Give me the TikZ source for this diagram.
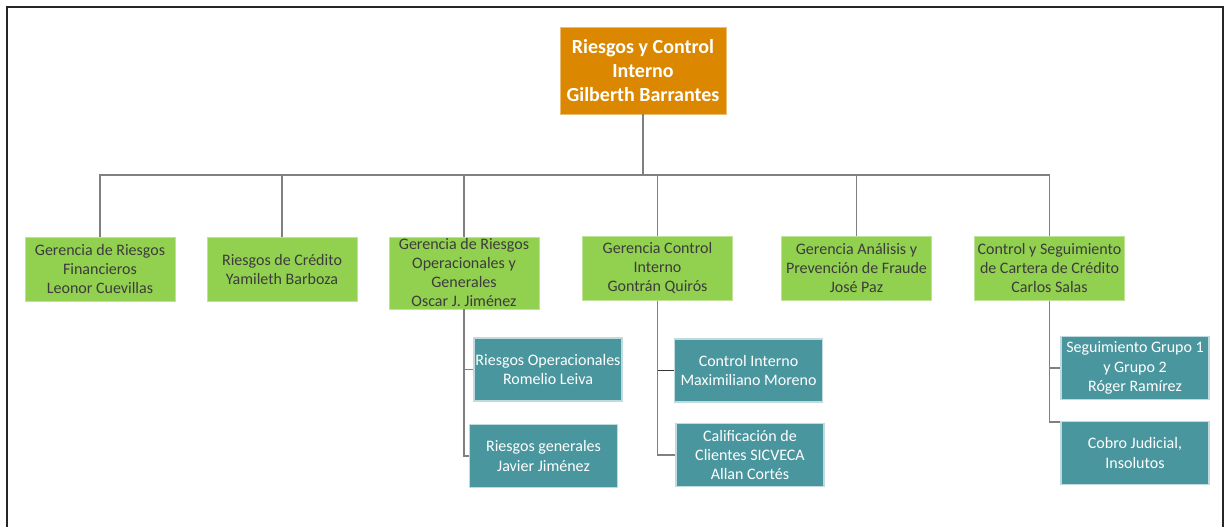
\documentclass[tikz,border=0pt]{standalone}
\usepackage{fontspec}
\setmainfont{Carlito}
\usetikzlibrary{positioning}

\definecolor{headorange}{RGB}{219,136,0}
\definecolor{mgrgreen}{RGB}{146,208,80}
\definecolor{mgrtext}{RGB}{60,60,60}
\definecolor{subteal}{RGB}{74,150,158}
\definecolor{linkgray}{RGB}{128,128,128}

\tikzset{
    head/.style={fill=headorange, draw=headorange!55!white, line width=0.8pt, text=white,
        font=\fontsize{20}{24}\selectfont\bfseries, align=center,
        minimum width=166, minimum height=87, inner sep=0pt},
    mgr/.style={fill=mgrgreen, draw=mgrgreen!60!white, line width=0.8pt, text=mgrtext,
        font=\fontsize{16}{19}\selectfont, align=center,
        minimum width=150, minimum height=64, inner sep=0pt},
    sub/.style={fill=subteal, draw=subteal!35!white, line width=1.2pt, text=white,
        font=\fontsize{16}{19.5}\selectfont, align=center,
        minimum width=148, minimum height=63, inner sep=0pt},
    link/.style={draw=linkgray, line width=1.8pt}
}

\begin{document}
\begin{tikzpicture}[x=1pt, y=-1pt]

    \useasboundingbox (0,0) rectangle (1227,527);

    % Draw the frame (open at the bottom)
    \draw[line width=2.5pt, black!85] (7,530) -- (7,7) -- (1223,7) -- (1223,530);

    % Head of the area
    \node[head] (top) at (643,70.5) {Riesgos y Control\\Interno\\Gilberth Barrantes};

    % Managements
    \node[mgr] (fin) at (100,269.5) {Gerencia de Riesgos\\Financieros\\Leonor Cuevillas};
    \node[mgr] (cred) at (282,269.5) {Riesgos de Crédito\\Yamileth Barboza};
    \node[mgr, minimum height=72] (oper) at (464,273) {Gerencia de Riesgos\\Operacionales y\\Generales\\Oscar J. Jiménez};
    \node[mgr] (ctrl) at (657.5,268.5) {Gerencia Control\\Interno\\Gontrán Quirós};
    \node[mgr] (fraude) at (856.5,268.5) {Gerencia Análisis y\\Prevención de Fraude\\José Paz};
    \node[mgr] (cart) at (1049.5,268.5) {Control y Seguimiento\\de Cartera de Crédito\\Carlos Salas};

    % Units below the managements
    \node[sub] (rop) at (548,369.5) {Riesgos Operacionales\\Romelio Leiva};
    \node[sub] (rgen) at (543.5,456) {Riesgos generales\\Javier Jiménez};
    \node[sub] (cint) at (748.5,370.5) {Control Interno\\Maximiliano Moreno};
    \node[sub] (calif) at (750,455) {Calificación de\\Clientes SICVECA\\Allan Cortés};
    \node[sub] (grupos) at (1135,368) {Seguimiento Grupo 1\\y Grupo 2\\Róger Ramírez};
    \node[sub] (cobro) at (1135,453) {Cobro Judicial,\\Insolutos};

    % Connect the head with the managements
    \coordinate (bus) at (643,175);
    \draw[link] (top.south) -- (bus);
    \foreach \n in {fin,cred,oper,ctrl,fraude,cart}
        \draw[link] (bus) -| (\n.north);

    % Connect the units
    \draw[link] (oper.south) |- (rop.west);
    \draw[link] (oper.south) |- (rgen.west);
    \draw[link, draw=black!80] (ctrl.south) |- (cint.west);
    \draw[link] (ctrl.south) |- (calif.west);
    \draw[link] (cart.south) |- (grupos.west);
    \draw[link] (cart.south) |- ([yshift=-1pt]cobro.north west);

\end{tikzpicture}
\end{document}
